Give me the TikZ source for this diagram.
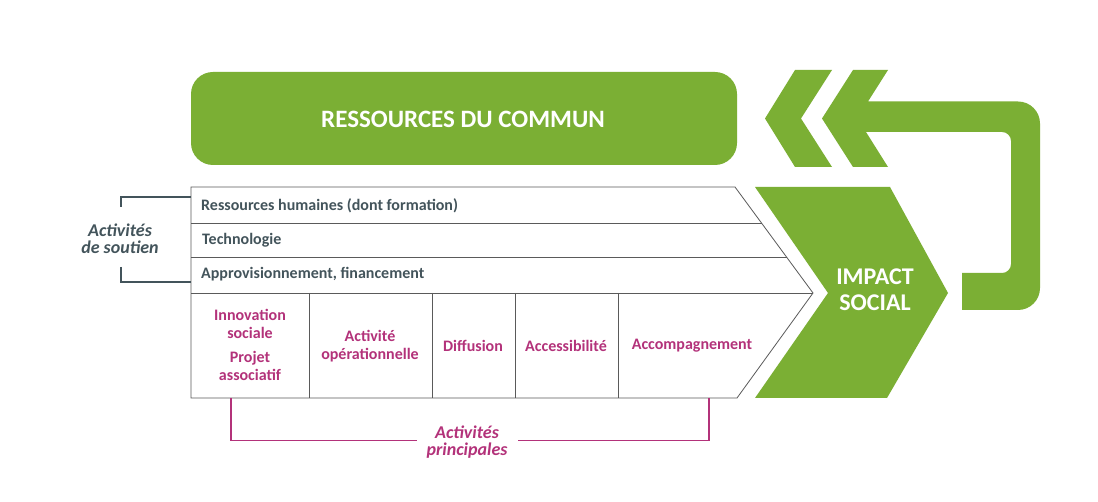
\documentclass[tikz,border=0pt]{standalone}
\usepackage{fontspec}
\setmainfont{Carlito}
\definecolor{vert}{HTML}{7BAF34}
\definecolor{ardoise}{HTML}{43545B}
\definecolor{magenta}{HTML}{B3327A}
\definecolor{trait}{HTML}{5A5A5A}
\tikzset{
  rowtxt/.style={anchor=west,text=ardoise,font=\bfseries\fontsize{16}{18}\selectfont,inner sep=0},
  celltxt/.style={align=center,text=magenta,font=\bfseries\fontsize{16}{17.5}\selectfont,inner sep=0},
  bigtxt/.style={align=center,text=white,font=\bfseries\fontsize{24}{26}\selectfont,inner sep=0},
  brkttxt/.style={align=center,font=\bfseries\itshape\fontsize{18}{17}\selectfont,inner sep=0},
  tabline/.style={draw=trait,line width=0.8pt},
}
\begin{document}
\begin{tikzpicture}[x=1pt,y=-1pt]
\useasboundingbox (0,0) rectangle (1098,502);
\fill[white] (0,0) rectangle (1098,502);

% top rounded rectangle
\node[fill=vert,rounded corners=22pt,minimum width=546pt,minimum height=93pt,inner sep=0] (commun) at (464,118.5) {};
\node[bigtxt,font=\bfseries\fontsize{25}{26}\selectfont] (communtxt) at (463,119) {RESSOURCES DU COMMUN};

% first chevron
\fill[vert] (765,118.5) -- (795,70) -- (832,70) -- (801,118.5) -- (832,167) -- (795,167) -- cycle;
% second chevron with loop arrow
\fill[vert] (822,118.5) -- (853,70) -- (888,70) -- (868,101.5)
  -- (1018,101.5) .. controls (1030.15,101.5) and (1040,111.35) .. (1040,123.5)
  -- (1040,288) .. controls (1040,300.15) and (1030.15,310) .. (1018,310)
  -- (962,310) -- (962,273)
  -- (1002,273) .. controls (1007,273) and (1011,269) .. (1011,264)
  -- (1011,141) .. controls (1011,136) and (1007,132) .. (1002,132)
  -- (866,132) -- (888,167) -- (853,167) -- cycle;

% impact chevron
\fill[vert] (755,187) -- (890,187) -- (948,293) -- (887,398) -- (755,398) -- (828,293) -- cycle;
\node[bigtxt] (impact) at (875,290) {IMPACT\\SOCIAL};

% table
\coordinate (tl) at (191,187);
\coordinate (bl) at (191,398);
\draw[tabline,line join=miter] (tl) -- (735,187) -- (813,293) -- (737,398) -- (bl) -- cycle;
\draw[tabline] (191,223) -- (761.5,223);
\draw[tabline] (191,257) -- (786.5,257);
\draw[tabline] (191,293) -- (813,293);
\foreach \cx in {309,432,515,618} \draw[tabline] (\cx,293) -- (\cx,398);

\node[rowtxt] (rh) at (201,206) {Ressources humaines (dont formation)};
\node[rowtxt] (tech) at (202,240) {Technologie};
\node[rowtxt] (appro) at (201,274) {Approvisionnement, financement};

\node[celltxt] (innov) at (250,324) {Innovation\\sociale};
\node[celltxt] (projet) at (250,366) {Projet\\associatif};
\node[celltxt] (oper) at (370,346) {Activité\\opérationnelle};
\node[celltxt] (diff) at (473,346) {Diffusion};
\node[celltxt] (acces) at (566,346) {Accessibilité};
\node[celltxt] (accomp) at (692,346) {Accompagnement};

% soutien bracket
\node[brkttxt,text=ardoise] (soutien) at (120,239) {Activités\\de soutien};
\coordinate (s1) at (191,197);
\coordinate (s2) at (191,282);
\draw[draw=ardoise,line width=1.6pt] (121,207) |- (s1);
\draw[draw=ardoise,line width=1.6pt] (121,267) |- (s2);

% principales bracket
\node[brkttxt,text=magenta] (princ) at (467,442) {Activités\\principales};
\coordinate (p1) at (231,398);
\coordinate (p2) at (709,398);
\draw[draw=magenta,line width=1.6pt] (p1) |- (417,440.5);
\draw[draw=magenta,line width=1.6pt] (p2) |- (518,440.5);
\end{tikzpicture}
\end{document}
